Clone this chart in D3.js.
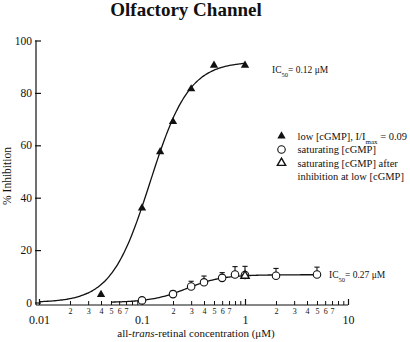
<!DOCTYPE html>
<html>
<head>
<meta charset="utf-8" />
<title>Olfactory Channel</title>
<script src="https://d3js.org/d3.v7.min.js"></script>
<style>
  body { margin: 0; background: #fff; }
  text { font-family: "Liberation Serif", "Times New Roman", serif; fill: #111; }
</style>
</head>
<body>
<svg width="410" height="342"></svg>
<script>
// low [cGMP] (filled triangles)
const lowConc = [0.04, 0.1, 0.15, 0.2, 0.3, 0.5, 1];
const lowInhib = [3, 36, 57.5, 69, 81.5, 90.5, 90.5];
// saturating [cGMP] (open circles, upward error bars)
const satConc = [0.1, 0.2, 0.3, 0.4, 0.6, 0.8, 1, 2, 5];
const satInhib = [0.8, 3.2, 6.1, 7.7, 9.4, 10.7, 10.5, 10.2, 10.7];
const satErr = [0, 1.2, 2, 2.4, 2, 3, 3.3, 2.8, 2.8];
// saturating [cGMP] after inhibition at low [cGMP] (open triangle)
const afterConc = [1];
const afterInhib = [10.2];

// Hill fits (IC50 from the labels)
const lowFit = { max: 92, ic50: 0.12, n: 2.3, from: 0.01, to: 1 };
const satFit = { max: 10.6, ic50: 0.27, n: 2.5, from: 0.05, to: 5 };

const majorTicks = [0.01, 0.1, 1, 10];
const yTicks = [0, 20, 40, 60, 80, 100];

const svg = d3.select('svg');

const x = d3.scaleLog().domain([0.01, 10]).range([39, 348]);
const y = d3.scaleLinear().domain([0, 100]).range([302.5, 40.5]);
const axisY = 305, axisX = 36;

// title
svg.append('text')
    .attr('x', 186).attr('y', 16)
    .attr('text-anchor', 'middle')
    .style('font-size', '19px').style('font-weight', 'bold')
    .text('Olfactory Channel');

// y axis
svg.append('line')
    .attr('x1', axisX).attr('x2', axisX)
    .attr('y1', y(100)).attr('y2', axisY)
    .attr('stroke', '#111').attr('stroke-width', 1.2);

const yaxisG = svg.append('g')
    .attr('transform', 'translate(' + axisX + ',0)')
    .call(d3.axisLeft(y).tickValues(yTicks).tickSize(-5).tickPadding(4));
yaxisG.select('.domain').remove();
yaxisG.selectAll('.tick line').attr('stroke', '#111').attr('stroke-width', 1.2).attr('x1', -1);
yaxisG.selectAll('.tick text')
    .style('font-family', '"Liberation Serif", serif')
    .style('font-size', '11.5px').attr('fill', '#111');

svg.append('text')
    .attr('transform', 'translate(11,' + 176 + ') rotate(-90)')
    .attr('text-anchor', 'middle')
    .style('font-size', '11.5px')
    .text('% Inhibition');

// x axis
svg.append('line')
    .attr('x1', axisX).attr('x2', x(10))
    .attr('y1', axisY).attr('y2', axisY)
    .attr('stroke', '#111').attr('stroke-width', 1.2);

const minorTicks = [];
[0.01, 0.1, 1].forEach(d => { for (let k = 2; k <= 9; k++) minorTicks.push(+(d * k).toPrecision(3)); });

const minorG = svg.append('g')
    .attr('transform', 'translate(0,' + axisY + ')')
    .call(d3.axisBottom(x).tickValues(minorTicks).tickSize(-4).tickPadding(3)
        .tickFormat(d => {
            const lead = Math.round(d / Math.pow(10, Math.floor(Math.log10(d) + 1e-9)));
            return lead <= 7 ? String(lead) : '';
        }));
minorG.select('.domain').remove();
minorG.selectAll('.tick line').attr('stroke', '#111').attr('stroke-width', 1);
minorG.selectAll('.tick text')
    .style('font-family', '"Liberation Serif", serif')
    .style('font-size', '8px').attr('fill', '#111');

const majorG = svg.append('g')
    .attr('transform', 'translate(0,' + axisY + ')')
    .call(d3.axisBottom(x).tickValues(majorTicks).tickSize(-6).tickPadding(10)
        .tickFormat(d => String(d)));
majorG.select('.domain').remove();
majorG.selectAll('.tick line').attr('stroke', '#111').attr('stroke-width', 1.2);
majorG.selectAll('.tick text')
    .style('font-family', '"Liberation Serif", serif')
    .style('font-size', '12px').attr('fill', '#111');

const xt = svg.append('text')
    .attr('x', 196).attr('y', 337)
    .attr('text-anchor', 'middle')
    .style('font-size', '11px');
xt.append('tspan').text('all-');
xt.append('tspan').style('font-style', 'italic').text('trans');
xt.append('tspan').text('-retinal concentration (\u03bcM)');

// fit curves
const hill = f => c => f.max * Math.pow(c / f.ic50, f.n) / (1 + Math.pow(c / f.ic50, f.n));
const curvePts = f => d3.range(0, 121).map(i => {
    const c = Math.pow(10, Math.log10(f.from) + i / 120 * (Math.log10(f.to) - Math.log10(f.from)));
    return [c, hill(f)(c)];
});
const line = d3.line().x(d => x(d[0])).y(d => y(d[1])).curve(d3.curveBasis);
[lowFit, satFit].forEach(f => {
    svg.append('path')
        .attr('d', line(curvePts(f)))
        .attr('fill', 'none').attr('stroke', '#111').attr('stroke-width', 1.3);
});

// error bars (upward)
const satData = satConc.map((c, i) => ({ c: c, v: satInhib[i], e: satErr[i] }));
const eb = svg.append('g').selectAll('g').data(satData.filter(d => d.e > 0)).enter().append('g');
eb.append('line')
    .attr('x1', d => x(d.c)).attr('x2', d => x(d.c))
    .attr('y1', d => y(d.v)).attr('y2', d => y(d.v + d.e))
    .attr('stroke', '#111').attr('stroke-width', 1.1);
eb.append('line')
    .attr('x1', d => x(d.c) - 2.6).attr('x2', d => x(d.c) + 2.6)
    .attr('y1', d => y(d.v + d.e)).attr('y2', d => y(d.v + d.e))
    .attr('stroke', '#111').attr('stroke-width', 1.1);

// markers
const tri = d3.symbol().type(d3.symbolTriangle).size(30);
const circ = d3.symbol().type(d3.symbolCircle).size(44);

svg.append('g').selectAll('path')
    .data(lowConc.map((c, i) => ({ c: c, v: lowInhib[i] })))
    .enter().append('path')
    .attr('d', tri)
    .attr('transform', d => 'translate(' + x(d.c) + ',' + y(d.v) + ')')
    .attr('fill', '#111');

svg.append('g').selectAll('path')
    .data(satData)
    .enter().append('path')
    .attr('d', circ)
    .attr('transform', d => 'translate(' + x(d.c) + ',' + y(d.v) + ')')
    .attr('fill', '#fff').attr('stroke', '#111').attr('stroke-width', 1.1);

svg.append('g').selectAll('path')
    .data(afterConc.map((c, i) => ({ c: c, v: afterInhib[i] })))
    .enter().append('path')
    .attr('d', tri)
    .attr('transform', d => 'translate(' + x(d.c) + ',' + y(d.v) + ')')
    .attr('fill', '#fff').attr('stroke', '#111').attr('stroke-width', 1.4);

// IC50 labels
function ic50Label(xp, yp, val) {
    const t = svg.append('text').attr('x', xp).attr('y', yp).style('font-size', '9.5px');
    t.append('tspan').text('IC');
    t.append('tspan').attr('baseline-shift', 'sub').style('font-size', '6.5px').text('50');
    t.append('tspan').text('= ' + val + ' \u03bcM');
}
ic50Label(272, 72.5, lowFit.ic50);
ic50Label(329, 278, satFit.ic50);

// legend
const legend = [
    { sym: 'filled', lines: ['low [cGMP], I/I', 'max', ' = 0.09'] },
    { sym: 'circle', lines: ['saturating [cGMP]'] },
    { sym: 'open', lines: ['saturating [cGMP] after', 'inhibition at low [cGMP]'] }
];
const lg = svg.append('g');
const rowY = [136, 149.5, 163];
legend.forEach((d, i) => {
    const cy = rowY[i];
    lg.append('path')
        .attr('d', d.sym === 'circle' ? circ : tri)
        .attr('transform', 'translate(281.5,' + cy + ')')
        .attr('fill', d.sym === 'filled' ? '#111' : '#fff')
        .attr('stroke', d.sym === 'filled' ? 'none' : '#111')
        .attr('stroke-width', d.sym === 'open' ? 1.4 : 1.1);
    if (i === 0) {
        const t = lg.append('text').attr('x', 297.5).attr('y', cy + 3.5).style('font-size', '10.5px');
        t.append('tspan').text(d.lines[0]);
        t.append('tspan').attr('baseline-shift', 'sub').style('font-size', '7px').text(d.lines[1]);
        t.append('tspan').text(d.lines[2]);
    } else {
        d.lines.forEach((s, j) => {
            lg.append('text').attr('x', 297.5).attr('y', cy + 3.5 + j * 13.5)
                .style('font-size', '10.5px').text(s);
        });
    }
});
</script>
</body>
</html>
